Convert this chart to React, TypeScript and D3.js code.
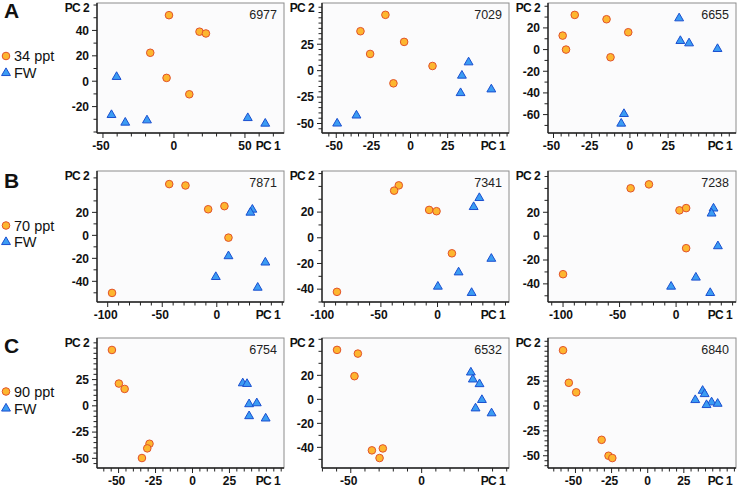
import React, { useEffect, useRef } from 'react';
import * as d3 from 'd3';

type Pt = [number, number];

// PCA scores: [PC1, PC2]
const a1Salt: Pt[] = [[-3.5, 52], [18, 39], [22.5, 37.6], [-16.7, 22.4], [-5.2, 2.6], [10.8, -10.3]];
const a1Fw: Pt[] = [[-40.4, 3.4], [-44, -26.6], [-34.3, -32.6], [-19, -30.8], [52, -29], [64.3, -33.4]];
const a2Salt: Pt[] = [[-16.9, 52.8], [-33.7, 37.3], [-4.3, 27.2], [-27.2, 15.8], [14.8, 4.4], [-11.5, -12]];
const a2Fw: Pt[] = [[39.1, 7.9], [34.6, -4.7], [33.7, -21.2], [54.4, -17.7], [-36.4, -42.4], [-49.4, -50]];
const a3Salt: Pt[] = [[-36.1, 32], [-15.3, 28], [-44, 12.9], [-1.1, 16], [-41.8, 0], [-12.7, -7.1]];
const a3Fw: Pt[] = [[32.2, 28.9], [33, 8], [38.7, 5.8], [57.3, 0.6], [-3.9, -59.4], [-5.7, -68.3]];
const b1Salt: Pt[] = [[-43.6, 44.6], [-28.7, 43.4], [-7.9, 22.7], [7, 25.4], [10.7, -2], [-96, -50.1]];
const b1Fw: Pt[] = [[32.6, 22.4], [30.8, 19.8], [10.7, -18.1], [44.5, -23.6], [-0.9, -36.2], [37.5, -45.5]];
const b2Salt: Pt[] = [[-34.2, 40.8], [-38.3, 36.7], [-7.4, 21.7], [-0.9, 20.7], [12.7, -12.1], [-88.8, -42.1]];
const b2Fw: Pt[] = [[36.9, 31], [31.9, 24], [47.5, -16.3], [18.6, -26.9], [0.3, -38], [30.1, -42.9]];
const b3Salt: Pt[] = [[-40.2, 40.1], [-24, 43.4], [3, 21.6], [8.9, 23.5], [8.9, -10.1], [-100, -31.9]];
const b3Fw: Pt[] = [[33.1, 23.2], [31.4, 19], [37, -8.4], [17.5, -34.7], [-4.4, -42.3], [30.2, -47.6]];
const c1Salt: Pt[] = [[-54.5, 53.2], [-49.8, 21.2], [-45.9, 16.1], [-29.1, -36.1], [-30.6, -40.5], [-34.2, -49.7]];
const c1Fw: Pt[] = [[34, 21.5], [36.9, 20.9], [38.3, 1.6], [43.5, 2.5], [38.3, -9.8], [49.5, -12]];
const c2Salt: Pt[] = [[-59.7, 41.2], [-45, 38.1], [-47.4, 19.3], [-35.1, -42.5], [-27.4, -40.9], [-29.7, -48.9]];
const c2Fw: Pt[] = [[34.7, 22.4], [36.1, 16.6], [40.8, 12.7], [42.5, -0.5], [38, -7.5], [49.3, -11.6]];
const c3Salt: Pt[] = [[-58.6, 56], [-54.6, 23.3], [-49.5, 13.7], [-31.9, -34], [-27.1, -50], [-24.5, -52.3]];
const c3Fw: Pt[] = [[38, 15.3], [39.4, 12], [32.9, 6], [44.2, 3.7], [40.7, 1], [48.4, 2.3]];

const rowLetters = ['A', 'B', 'C'];
const salinities = ['34 ppt', '70 ppt', '90 ppt'];
const panelIds = ['6977', '7029', '6655', '7871', '7341', '7238', '6754', '6532', '6840'];

const xTicksA1 = [-50, 0, 50];
const xTicks25 = [-50, -25, 0, 25];
const xTicksB = [-100, -50, 0];
const xTicksC2 = [-50, 0];
const yTicksA1 = [-20, 0, 20, 40];
const yTicks25 = [-50, -25, 0, 25];
const yTicksA3 = [-60, -40, -20, 0, 20];
const yTicksB = [-40, -20, 0, 20];

interface Panel {
  salt: Pt[];
  fw: Pt[];
  xDom: [number, number];
  yDom: [number, number];
  xTicks: number[];
  yTicks: number[];
  xMinor: number;
  yMinor: number;
}

const panels: Panel[] = [
  { salt: a1Salt, fw: a1Fw, xDom: [-54.2, 77.5], yDom: [-40.8, 61.6], xTicks: xTicksA1, yTicks: yTicksA1, xMinor: 10, yMinor: 10 },
  { salt: a2Salt, fw: a2Fw, xDom: [-59.6, 66.3], yDom: [-59, 64], xTicks: xTicks25, yTicks: yTicks25, xMinor: 5, yMinor: 5 },
  { salt: a3Salt, fw: a3Fw, xDom: [-53.6, 69.4], yDom: [-77, 43], xTicks: xTicks25, yTicks: yTicksA3, xMinor: 5, yMinor: 10 },
  { salt: b1Salt, fw: b1Fw, xDom: [-109.8, 61.6], yDom: [-58, 56], xTicks: xTicksB, yTicks: yTicksB, xMinor: 10, yMinor: 10 },
  { salt: b2Salt, fw: b2Fw, xDom: [-102, 63.1], yDom: [-50, 52], xTicks: xTicksB, yTicks: yTicksB, xMinor: 10, yMinor: 10 },
  { salt: b3Salt, fw: b3Fw, xDom: [-113.3, 53], yDom: [-55.2, 54.6], xTicks: xTicksB, yTicks: yTicksB, xMinor: 10, yMinor: 10 },
  { salt: c1Salt, fw: c1Fw, xDom: [-64.6, 61.9], yDom: [-59.2, 64.6], xTicks: xTicks25, yTicks: yTicks25, xMinor: 5, yMinor: 5 },
  { salt: c2Salt, fw: c2Fw, xDom: [-70.3, 61.6], yDom: [-57.2, 51.1], xTicks: xTicksC2, yTicks: yTicksB, xMinor: 10, yMinor: 10 },
  { salt: c3Salt, fw: c3Fw, xDom: [-69, 61.1], yDom: [-62.3, 68.3], xTicks: xTicks25, yTicks: yTicks25, xMinor: 5, yMinor: 5 },
];

const W = 740;
const H = 487;
const cols: [number, number][] = [[97, 284], [322, 509], [548, 736]];
const rows: [number, number][] = [[3, 133], [171, 302], [338, 468]];

const ORANGE = '#fdb62f';
const ORANGE_EDGE = '#e2522a';
const BLUE = '#3b9cf3';
const BLUE_EDGE = '#1a4fd0';
const FONT = '"Liberation Sans", Arial, Helvetica, sans-serif';

const tri = d3.symbol(d3.symbolTriangle, 34)();
const R = 3.8;

const App: React.FC = () => {
  const ref = useRef<SVGSVGElement>(null);

  useEffect(() => {
    const svg = d3.select(ref.current);
    svg.selectAll('*').remove();

    panels.forEach((p, i) => {
      const [x0, x1] = cols[i % 3];
      const [y0, y1] = rows[Math.floor(i / 3)];
      const x = d3.scaleLinear().domain(p.xDom).range([x0, x1]);
      const y = d3.scaleLinear().domain(p.yDom).range([y1, y0]);
      const g = svg.append('g');

      // frame
      g.append('rect')
        .attr('x', x0).attr('y', y0)
        .attr('width', x1 - x0).attr('height', y1 - y0)
        .attr('fill', '#fbfbfc')
        .attr('stroke', '#8c8c8c')
        .attr('stroke-width', 1);

      // minor + major ticks
      const xt = d3.range(Math.ceil(p.xDom[0] / p.xMinor) * p.xMinor, p.xDom[1], p.xMinor);
      const yt = d3.range(Math.ceil(p.yDom[0] / p.yMinor) * p.yMinor, p.yDom[1], p.yMinor);
      g.selectAll('.xt').data(xt).enter().append('line')
        .attr('x1', d => x(d)).attr('x2', d => x(d))
        .attr('y1', y1).attr('y2', d => y1 + (p.xTicks.includes(d) ? 5 : 3.5))
        .attr('stroke', '#222').attr('stroke-width', 1);
      g.selectAll('.yt').data(yt).enter().append('line')
        .attr('y1', d => y(d)).attr('y2', d => y(d))
        .attr('x1', x0).attr('x2', d => x0 - (p.yTicks.includes(d) ? 5 : 3.5))
        .attr('stroke', '#222').attr('stroke-width', 1);

      // axis lines
      g.append('line').attr('x1', x0).attr('x2', x1).attr('y1', y1).attr('y2', y1)
        .attr('stroke', '#222').attr('stroke-width', 1.4);
      g.append('line').attr('x1', x0).attr('x2', x0).attr('y1', y0).attr('y2', y1)
        .attr('stroke', '#222').attr('stroke-width', 1.4);

      // tick labels
      g.selectAll('.xl').data(p.xTicks).enter().append('text')
        .attr('x', d => x(d) - (d < 0 ? 2 : 0)).attr('y', y1 + 17)
        .attr('text-anchor', 'middle')
        .attr('font-family', FONT).attr('font-size', 12).attr('font-weight', 'bold')
        .attr('fill', '#111')
        .text(d => String(d));
      g.selectAll('.yl').data(p.yTicks).enter().append('text')
        .attr('x', x0 - 8).attr('y', d => y(d)).attr('dy', '0.36em')
        .attr('text-anchor', 'end')
        .attr('font-family', FONT).attr('font-size', 12).attr('font-weight', 'bold')
        .attr('fill', '#111')
        .text(d => String(d));

      g.append('text')
        .attr('x', x1 - 4).attr('y', y1 + 17)
        .attr('text-anchor', 'end')
        .attr('font-family', FONT).attr('font-size', 12).attr('font-weight', 'bold')
        .attr('letter-spacing', -0.6)
        .attr('fill', '#111')
        .text('PC 1');
      g.append('text')
        .attr('x', x0 - 8).attr('y', y0 + 9)
        .attr('text-anchor', 'end')
        .attr('font-family', FONT).attr('font-size', 12).attr('font-weight', 'bold')
        .attr('letter-spacing', -0.6)
        .attr('fill', '#111')
        .text('PC 2');

      g.append('text')
        .attr('x', x1 - 7).attr('y', y0 + 16)
        .attr('text-anchor', 'end')
        .attr('font-family', FONT).attr('font-size', 12.5)
        .attr('fill', '#222')
        .text(panelIds[i]);

      // points
      g.selectAll('.fw').data(p.fw).enter().append('path')
        .attr('d', tri)
        .attr('transform', d => `translate(${x(d[0])},${y(d[1])})`)
        .attr('fill', BLUE).attr('stroke', BLUE_EDGE).attr('stroke-width', 1);
      g.selectAll('.salt').data(p.salt).enter().append('circle')
        .attr('cx', d => x(d[0])).attr('cy', d => y(d[1]))
        .attr('r', R)
        .attr('fill', ORANGE).attr('stroke', ORANGE_EDGE).attr('stroke-width', 1);
    });

    // row letters and legends
    const letterY = [18, 188, 353];
    const circY = [56, 225.5, 391.5];
    const triY = [73, 242, 408.5];
    rowLetters.forEach((L, r) => {
      svg.append('text')
        .attr('x', 4).attr('y', letterY[r])
        .attr('font-family', FONT).attr('font-size', 21).attr('font-weight', 'bold')
        .attr('fill', '#111')
        .text(L);
      svg.append('circle')
        .attr('cx', 6).attr('cy', circY[r]).attr('r', R)
        .attr('fill', ORANGE).attr('stroke', ORANGE_EDGE).attr('stroke-width', 1);
      svg.append('text')
        .attr('x', 14).attr('y', circY[r] + 5)
        .attr('font-family', FONT).attr('font-size', 14.5)
        .attr('fill', '#111')
        .text(salinities[r]);
      svg.append('path')
        .attr('d', tri)
        .attr('transform', `translate(6,${triY[r]})`)
        .attr('fill', BLUE).attr('stroke', BLUE_EDGE).attr('stroke-width', 1);
      svg.append('text')
        .attr('x', 14).attr('y', triY[r] + 5)
        .attr('font-family', FONT).attr('font-size', 14.5)
        .attr('fill', '#111')
        .text('FW');
    });
  }, []);

  return (
    <svg
      ref={ref}
      width={W}
      height={H}
      style={{ position: 'absolute', left: 0, top: 0, background: '#fff' }}
    />
  );
};

export default App;
